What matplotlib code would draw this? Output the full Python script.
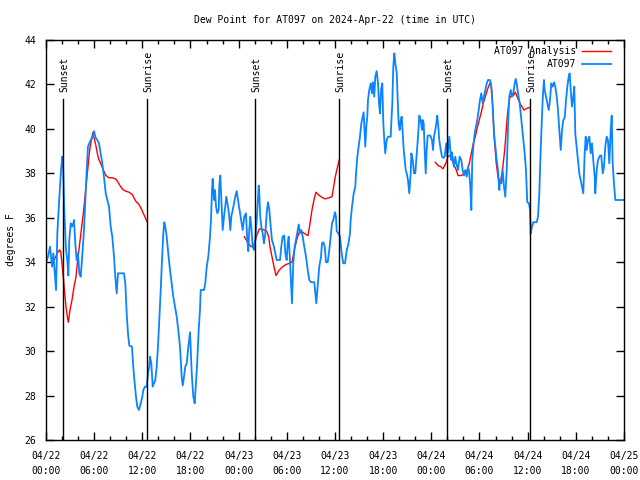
import numpy as np
import matplotlib
matplotlib.use("Agg")
import matplotlib.pyplot as plt
from matplotlib.ticker import MultipleLocator

# hours since 2024-04-22 00:00 UTC
obs_hours = [0, 0.25, 0.5, 0.75, 0.91, 1.25, 1.41, 1.58, 1.74, 1.91, 2.03, 2.15, 2.24, 2.33, 2.49, 2.65, 2.78,
             2.9, 3.08, 3.24, 3.4, 3.49, 3.65, 3.82, 3.99, 4.15, 4.32, 4.48, 4.73, 4.9, 5.07, 5.23, 5.39, 5.57,
             5.82, 5.98, 6.19, 6.39, 6.6, 6.81, 7.01, 7.22, 7.44, 7.64, 7.85, 8.06, 8.26, 8.47, 8.63, 8.81,
             8.97, 9.3, 9.72, 9.88, 10.05, 10.21, 10.38, 10.71, 10.87, 11.05, 11.21, 11.37, 11.58, 11.8, 12.0,
             12.12, 12.33, 12.54, 12.71, 12.87, 12.95, 13.12, 13.29, 13.45, 13.61, 13.79, 13.95, 14.11, 14.29,
             14.45, 14.61, 14.74, 14.86, 15.03, 15.23, 15.45, 15.66, 15.86, 16.07, 16.28, 16.48, 16.69, 16.9,
             17.03, 17.19, 17.35, 17.53, 17.73, 17.94, 18.02, 18.15, 18.35, 18.52, 18.68, 18.85, 19.02, 19.18,
             19.27, 19.68, 19.84, 20.02, 20.22, 20.43, 20.55, 20.68, 20.76, 20.93, 21.05, 21.18, 21.34, 21.51,
             21.59, 21.71, 21.84, 22.01, 22.17, 22.33, 22.46, 22.67, 22.83, 22.96, 23.08, 23.26, 23.42, 23.58,
             23.75, 23.92, 24.08, 24.29, 24.5, 24.7, 24.91, 25.07, 25.2, 25.32, 25.45, 25.57, 25.75, 25.91,
             26.07, 26.25, 26.41, 26.5, 26.57, 26.69, 26.82, 26.99, 27.15, 27.32, 27.49, 27.65, 27.82, 27.99,
             28.15, 28.4, 28.56, 28.74, 29.15, 29.31, 29.48, 29.68, 29.81, 29.98, 30.11, 30.23, 30.39, 30.52,
             30.64, 30.8, 30.98, 31.14, 31.35, 31.48, 31.64, 31.8, 31.98, 32.17, 32.39, 32.6, 32.8, 33.01,
             33.42, 33.55, 33.67, 33.84, 34.04, 34.26, 34.38, 34.54, 34.72, 34.88, 35.09, 35.29, 35.46, 35.63,
             35.79, 36.0, 36.12, 36.21, 36.41, 36.62, 36.83, 37.03, 37.25, 37.46, 37.66, 37.87, 37.95, 38.12,
             38.33, 38.53, 38.62, 38.78, 38.95, 39.11, 39.28, 39.45, 39.57, 39.7, 39.77, 39.9, 40.02, 40.11,
             40.27, 40.45, 40.61, 40.73, 40.89, 41.02, 41.19, 41.36, 41.48, 41.61, 41.73, 41.89, 42.02, 42.14,
             42.26, 42.44, 42.6, 42.94, 43.01, 43.14, 43.26, 43.39, 43.51, 43.69, 43.81, 43.93, 44.06, 44.18,
             44.31, 44.43, 44.56, 44.68, 44.81, 44.93, 45.09, 45.25, 45.43, 45.51, 45.68, 45.84, 46.0, 46.18,
             46.34, 46.5, 46.67, 46.84, 46.92, 47.05, 47.17, 47.3, 47.42, 47.55, 47.87, 48.08, 48.21, 48.33,
             48.49, 48.62, 48.74, 48.87, 48.99, 49.17, 49.33, 49.49, 49.66, 49.86, 49.99, 50.16, 50.24, 50.36,
             50.49, 50.57, 50.7, 50.82, 50.98, 51.11, 51.32, 51.53, 51.73, 51.9, 52.07, 52.23, 52.41, 52.57,
             52.73, 52.85, 52.98, 53.1, 53.23, 53.4, 53.56, 53.72, 53.9, 54.06, 54.22, 54.4, 54.56, 54.72,
             54.9, 55.06, 55.31, 55.47, 55.64, 55.81, 55.97, 56.14, 56.3, 56.47, 56.55, 56.72, 56.89, 57.05,
             57.21, 57.39, 57.55, 57.71, 57.89, 58.05, 58.21, 58.38, 58.51, 58.63, 58.8, 59.01, 59.21, 59.42,
             59.63, 59.79, 59.95, 60.16, 60.29, 60.38, 60.54, 60.7, 61.12, 61.29, 61.45, 61.62, 61.78, 61.91,
             62.03, 62.12, 62.28, 62.45, 62.62, 62.78, 62.94, 63.12, 63.28, 63.44, 63.62, 63.78, 63.94, 64.12,
             64.28, 64.44, 64.61, 64.78, 64.94, 65.11, 65.23, 65.36, 65.52, 65.68, 65.81, 65.93, 66.1, 66.27,
             66.43, 66.6, 66.77, 66.93, 67.1, 67.23, 67.35, 67.51, 67.68, 67.85, 68.01, 68.17, 68.35, 68.42,
             68.6, 68.76, 69.01, 69.17, 69.35, 69.51, 69.67, 69.84, 70.0, 70.17, 70.34, 70.47, 70.59, 70.75,
             70.92, 71.59, 72.0]
obs_dewpt = [34.0, 34.25, 34.7, 33.8, 34.4, 32.75, 35.3, 36.35, 37.4, 38.3, 38.75, 38.15, 36.8, 35.9, 34.55,
             34.1, 33.4, 35.0, 35.75, 35.6, 35.75, 35.9, 34.85, 34.1, 34.4, 33.5, 33.35, 34.1, 35.45, 36.8,
             38.15, 39.2, 39.35, 39.5, 39.65, 39.9, 39.6, 39.5, 39.35, 38.9, 38.45, 37.85, 37.1, 36.8, 36.5,
             35.6, 35.15, 34.25, 33.35, 32.6, 33.5, 33.5, 33.5, 33.05, 31.7, 30.8, 30.25, 30.2, 29.3, 28.55,
             27.95, 27.5, 27.35, 27.65, 27.95, 28.25, 28.4, 28.4, 29.0, 29.3, 29.75, 29.45, 28.4, 28.55, 28.7,
             29.3, 30.2, 31.4, 32.75, 34.1, 35.3, 35.8, 35.6, 35.15, 34.4, 33.65, 33.05, 32.45, 32.0, 31.55,
             30.95, 30.2, 28.85, 28.45, 28.85, 29.3, 29.45, 30.2, 30.85, 30.2, 29.0, 27.95, 27.65, 28.55, 29.6,
             30.95, 31.85, 32.75, 32.75, 33.05, 33.8, 34.25, 35.15, 35.9, 37.25, 37.75, 36.8, 37.25, 36.5,
             36.2, 36.35, 37.45, 37.9, 36.8, 35.45, 36.05, 36.5, 36.95, 36.5, 36.05, 35.45, 36.05, 36.35,
             36.65, 36.95, 37.2, 36.8, 36.4, 35.9, 35.45, 36.05, 36.2, 35.0, 34.5, 35.45, 36.05, 35.6, 34.7,
             34.55, 35.0, 35.9, 36.95, 37.45, 37.1, 36.05, 35.6, 35.3, 34.85, 35.3, 36.2, 36.7, 36.35, 35.6,
             35.0, 34.7, 34.4, 34.1, 34.1, 34.7, 35.15, 35.2, 34.4, 34.1, 34.85, 35.15, 34.1, 33.05, 32.15,
             33.95, 34.7, 35.0, 35.45, 35.7, 35.3, 35.45, 35.15, 34.7, 34.25, 33.65, 33.2, 33.1, 33.1, 32.6,
             32.15, 32.9, 33.8, 34.25, 34.85, 34.9, 34.7, 34.0, 34.0, 34.55, 35.15, 35.75, 35.9, 36.25, 36.05,
             35.4, 35.3, 35.15, 34.4, 33.95, 33.95, 34.55, 34.8, 35.3, 35.9, 36.5, 37.1, 37.4, 38.0, 38.75,
             39.2, 39.65, 40.25, 40.55, 40.75, 39.8, 39.2, 40.1, 40.55, 41.3, 41.75, 42.05, 41.6, 42.1, 41.45,
             42.35, 42.6, 42.05, 41.15, 40.7, 41.75, 42.05, 40.25, 39.5, 38.9, 39.5, 39.65, 39.65, 40.25,
             41.15, 42.8, 43.4, 42.95, 42.5, 41.3, 40.25, 39.95, 40.4, 40.55, 39.8, 39.05, 38.6, 38.15, 38.0,
             37.7, 37.1, 38.0, 38.9, 38.6, 38.0, 38.0, 38.9, 39.65, 40.6, 40.4, 39.95, 40.4, 40.25, 39.05,
             38.0, 39.05, 39.7, 39.7, 39.5, 39.05, 39.65, 39.95, 40.25, 40.6, 40.1, 39.5, 39.05, 38.75, 38.7,
             38.75, 39.35, 38.75, 39.35, 39.65, 39.05, 38.6, 38.95, 38.6, 38.3, 38.75, 38.45, 38.15, 38.75,
             38.6, 38.15, 37.9, 38.15, 37.85, 38.3, 38.0, 37.4, 36.35, 38.6, 39.2, 39.8, 40.1, 40.4, 40.85,
             41.3, 41.6, 41.15, 41.45, 41.75, 42.05, 42.2, 42.2, 41.9, 41.0, 39.8, 39.2, 38.6, 38.15, 37.25,
             37.7, 37.55, 38.15, 37.4, 36.95, 38.15, 40.1, 41.45, 41.75, 41.45, 41.6, 42.05, 42.25, 42.05,
             41.6, 41.15, 40.4, 39.65, 38.9, 38.15, 36.7, 36.65, 36.35, 35.3, 35.6, 35.8, 35.8, 36.05, 37.1,
             39.05, 40.55, 41.6, 42.2, 41.75, 41.45, 41.15, 40.85, 41.3, 42.05, 41.9, 42.1, 41.9, 41.45, 40.85,
             39.95, 39.05, 39.95, 40.4, 40.5, 41.3, 41.9, 42.35, 42.5, 41.75, 41.0, 41.45, 41.9, 39.8, 39.2,
             38.6, 38.0, 37.7, 37.4, 37.1, 38.9, 39.65, 39.05, 39.5, 39.65, 38.9, 39.35, 38.6, 37.85, 37.1,
             38.15, 38.6, 38.8, 38.8, 38.0, 38.3, 39.2, 39.65, 39.5, 38.45, 39.9, 40.6, 38.45, 37.55, 36.8,
             36.8, 36.8]

nan = float("nan")
ana_hours = [1.0, 1.41, 1.66, 1.83, 1.99, 2.15, 2.33, 2.49, 2.65, 2.78, 2.99, 3.24, 3.49, 3.74, 3.9, 4.15,
             4.4, 4.65, 4.82, 5.07, 5.23, 5.39, 5.57, 5.73, 5.85, 5.98, 6.19, 6.39, 6.6, 6.81, 7.14, 7.47,
             7.85, 8.26, 8.68, 8.97, 9.3, 9.63, 9.93, 10.34, 10.75, 11.17, 11.58, 11.87, 12.12, 12.62, 18.0,
             24.7, 25.12, 25.54, 25.75, 25.95, 26.25, 26.57, 26.78, 27.19, 27.49, 27.74, 27.9, 28.15, 28.4,
             28.65, 29.06, 29.48, 29.9, 30.31, 30.64, 30.93, 31.23, 31.48, 31.64, 31.98, 32.39, 32.64, 32.89,
             33.13, 33.38, 33.63, 34.04, 34.47, 34.79, 35.29, 35.63, 35.84, 36.04, 36.25, 36.53, 42.0,
             48.49, 48.83, 49.17, 49.45, 49.66, 49.86, 50.07, 50.29, 50.49, 50.7, 50.91, 51.11, 51.32, 51.73,
             52.15, 52.48, 52.73, 52.98, 53.23, 53.48, 53.72, 53.97, 54.22, 54.47, 54.72, 54.97, 55.22, 55.39,
             55.56, 55.72, 55.89, 56.09, 56.3, 56.47, 56.64, 56.8, 56.96, 57.14, 57.3, 57.46, 57.64, 57.8,
             57.96, 58.21, 58.46, 58.63, 58.8, 59.05, 59.29, 59.54, 59.79, 60.04, 60.29]
ana_dewpt = [34.1, 34.4, 34.55, 34.5, 33.95, 33.35, 32.6, 32.0, 31.55, 31.3, 31.85, 32.3, 32.9, 33.35, 33.95,
             34.7, 35.45, 36.2, 36.8, 37.7, 38.3, 38.9, 39.35, 39.65, 39.85, 39.6, 39.3, 38.9, 38.6, 38.45,
             38.15, 37.9, 37.8, 37.8, 37.75, 37.6, 37.4, 37.25, 37.2, 37.15, 37.05, 36.75, 36.6, 36.4, 36.2,
             35.8, nan,
             35.15, 34.9, 34.7, 34.7, 34.85, 35.2, 35.5, 35.5, 35.45, 35.4, 35.15, 34.7, 34.25, 33.8, 33.4,
             33.65, 33.8, 33.9, 33.95, 34.0, 34.55, 35.0, 35.3, 35.4, 35.35, 35.25, 35.2, 35.75, 36.35, 36.8,
             37.15, 37.0, 36.9, 36.85, 36.9, 36.95, 37.4, 37.85, 38.2, 38.6, nan,
             38.5, 38.35, 38.3, 38.2, 38.35, 38.5, 38.75, 38.8, 38.75, 38.5, 38.3, 38.15, 37.9, 37.9, 38.0,
             38.15, 38.45, 38.9, 39.35, 39.65, 40.05, 40.4, 40.75, 41.15, 41.45, 41.75, 42.0, 42.1, 41.6,
             40.4, 39.35, 38.45, 37.85, 37.55, 37.7, 38.0, 38.45, 39.05, 39.8, 40.55, 41.15, 41.45, 41.45,
             41.5, 41.65, 41.5, 41.35, 41.15, 41.0, 40.85, 40.9, 40.95, 40.95]

sun_hours = [2.12, 12.62, 26.07, 36.53, 49.99, 60.29]
sun_labels = ["Sunset", "Sunrise", "Sunset", "Sunrise", "Sunset", "Sunrise"]

tick_hours = list(range(0, 73, 6))
tick_labels = ["04/22\n00:00", "04/22\n06:00", "04/22\n12:00", "04/22\n18:00",
               "04/23\n00:00", "04/23\n06:00", "04/23\n12:00", "04/23\n18:00",
               "04/24\n00:00", "04/24\n06:00", "04/24\n12:00", "04/24\n18:00",
               "04/25\n00:00"]

plt.rcParams['font.family'] = ['DejaVu Sans Mono']
plt.rcParams['font.size'] = 7

fig = plt.figure(figsize=(6.4, 4.8), dpi=100)
ax = fig.add_axes([46 / 640, 40 / 480, 578 / 640, 400 / 480])

ax.plot(ana_hours, ana_dewpt, color='#ff0000', lw=1.0, label='AT097 Analysis')
ax.plot(obs_hours, obs_dewpt, color='#0a84ff', lw=1.3, label='AT097')

for h, lab in zip(sun_hours, sun_labels):
    ax.plot([h, h], [26, 41.35], color='black', lw=1.0)
    ax.text(h + 0.15, 41.66, lab, rotation=90, ha='center', va='bottom', fontsize=7)

ax.set_xlim(0, 72)
ax.set_ylim(26, 44)
ax.set_xticks(tick_hours)
ax.set_xticklabels(tick_labels, linespacing=1.6)
ax.xaxis.set_minor_locator(MultipleLocator(2))
ax.yaxis.set_major_locator(MultipleLocator(2))
ax.tick_params(which='both', direction='in', top=True, right=True, width=1.0, color='black')
ax.tick_params(which='major', length=6)
ax.tick_params(axis='x', which='major', pad=8)
ax.tick_params(axis='y', which='major', pad=7)
ax.tick_params(which='minor', length=3)
for s in ax.spines.values():
    s.set_linewidth(1.0)

ax.set_ylabel('degrees F', labelpad=6)
ax.set_title('Dew Point for AT097 on 2024-Apr-22 (time in UTC)', fontsize=7, pad=12)

leg = ax.legend(loc='upper right', bbox_to_anchor=(0.977, 0.985), frameon=False, markerfirst=False,
                handlelength=3.0, borderpad=0, borderaxespad=0, handletextpad=0.5,
                labelspacing=0.3, fontsize=7)

fig.savefig('out.png', dpi=100)
